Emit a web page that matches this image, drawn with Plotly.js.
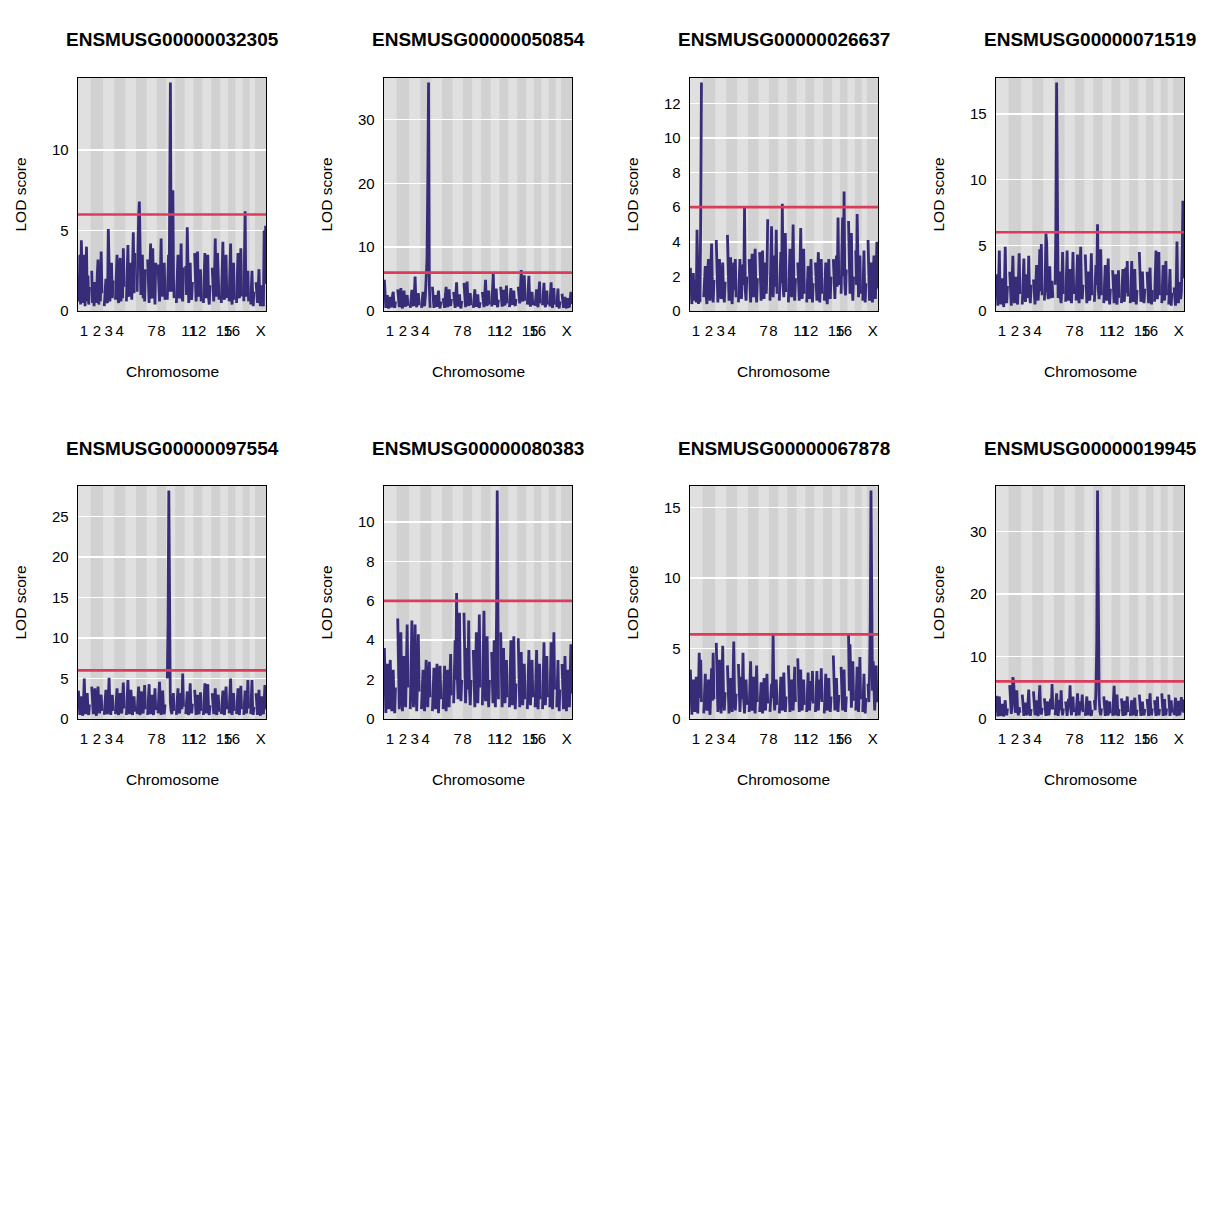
<!DOCTYPE html>
<html>
<head>
<meta charset="utf-8">
<script src="https://cdn.plot.ly/plotly-3.0.1.min.js"></script>
<style>html,body{margin:0;padding:0;background:#fff;}#chart{width:1224px;height:1224px;}</style>
</head>
<body>
<div id="chart"></div>
<script>
// ---- Data ----
const chromosomes = ["1","2","3","4","5","6","7","8","9","10","11","12","13","14","15","16","17","18","19","X"];
const chrLengthsMb = [195.5,182.1,160.0,156.5,151.8,149.7,145.4,129.4,124.6,130.7,122.1,120.1,120.4,124.9,104.0,98.2,94.9,90.7,61.4,171.0];
const gapMb = 25;
const labeledChromosomes = ["1","2","3","4","7","8","11","12","15","16","X"];
const lodThreshold = 6;
const genes = ["ENSMUSG00000032305","ENSMUSG00000050854","ENSMUSG00000026637","ENSMUSG00000071519",
               "ENSMUSG00000097554","ENSMUSG00000080383","ENSMUSG00000067878","ENSMUSG00000019945"];

// LOD scores per chromosome (markers spread evenly along each chromosome)
const lodENSMUSG00000032305 = [
  [2.2,0.6,3.5,0.4,4.4,1.2,0.5,2.8,3.5,0.3,1.9,4.0,0.6,2.2,0.4,1.5],
  [2.5,0.5,1.4,0.3,1.8,0.9,0.5,2.2,3.2,0.4,1.6,0.6,3.7,1.1],
  [0.3,1.2,2.0,0.6,0.5,5.1,1.4,0.6,2.4,3.0,0.8,1.9],
  [0.7,2.6,3.5,0.9,0.5,2.2,3.3,0.6,1.3,0.8,3.9,1.5],
  [0.6,2.4,4.1,1.0,0.9,3.0,1.6,0.7,2.8,4.9,1.1,3.6],
  [1.2,4.0,5.8,6.8,3.0,1.0,2.2,3.5,0.8,1.7,0.6,2.6],
  [3.2,1.0,0.5,2.4,4.2,0.9,0.8,3.9,1.3,2.0,0.4,3.0],
  [2.9,0.8,0.6,2.0,4.5,1.4,0.9,2.6,3.0,0.7],
  [0.7,2.2,3.5,1.2,6.0,14.2,5.5,1.2,3.0,7.5,2.0,0.8],
  [0.5,2.4,3.5,1.0,0.8,2.1,4.2,0.9,0.6,2.7],
  [2.8,1.0,5.2,1.5,0.5,2.2,3.0,0.8,0.7,1.8],
  [3.6,1.2,0.6,2.3,3.7,1.0,0.9,1.8,2.6,0.6],
  [0.5,1.9,3.6,1.1,0.8,2.5,3.5,0.9,0.4,1.6],
  [2.7,0.9,0.6,2.1,4.5,1.3,0.9,3.6,1.5,0.7],
  [0.5,2.2,4.3,1.2,0.7,2.4,3.5,0.8],
  [0.6,2.0,4.2,1.1,0.4,1.9,3.0,0.7],
  [0.5,2.3,3.6,1.0,0.8,2.1,3.9,0.9],
  [0.6,2.4,6.2,1.3,0.9,1.8,2.5,0.6],
  [0.4,1.6,2.5,1.0,0.3,1.2],
  [1.8,0.6,0.5,1.4,2.6,0.8,0.3,1.2,1.6,0.5,0.3,5.0,1.7,5.3]
];
const lodENSMUSG00000050854 = [
  [4.9,1.2,0.5,1.8,2.5,0.7,0.4,1.6,2.2,0.8,0.6,2.4,3.0,1.0,0.5,1.5],
  [3.4,1.1,0.6,2.2,3.6,0.9,0.4,1.9,3.2,1.0,0.7,2.0,2.5,0.8],
  [0.5,1.8,3.3,1.0,0.8,2.4,5.4,1.2,0.6,1.7,2.8,0.9],
  [0.5,1.9,3.0,1.0,0.8,2.5,4.5,8.0,19.7,35.8,4.0,0.5],
  [3.8,1.2,0.5,1.6,2.5,0.9,0.7,2.2,3.2,1.0,0.4,1.5],
  [2.0,0.8,0.5,2.4,3.8,1.1,0.6,2.0,3.4,1.0,0.8,1.9],
  [3.0,1.0,0.5,2.6,4.5,1.3,0.7,1.8,2.6,0.9,0.4,1.6],
  [4.4,1.2,0.6,2.8,4.6,1.4,0.8,1.9,2.8,0.9],
  [0.5,1.9,3.4,1.0,0.7,1.6,2.6,0.8,0.5,1.4],
  [3.0,1.0,0.6,2.5,4.9,1.4,0.8,2.1,3.2,1.0],
  [0.7,2.8,5.9,1.6,1.0,2.2,3.5,1.0,0.6,1.8],
  [3.8,1.2,0.7,2.0,3.3,1.1,0.9,2.4,4.0,1.2],
  [0.6,2.0,3.6,1.2,1.0,2.1,3.2,1.1,0.8,1.9],
  [3.8,1.5,1.2,3.6,6.4,2.0,1.5,3.4,5.6,1.6],
  [1.0,3.0,5.5,1.4,0.7,1.9,3.0,0.9],
  [0.8,2.0,3.4,1.0,0.6,2.5,4.6,1.2],
  [0.9,2.4,4.4,1.2,0.6,1.8,3.2,1.0],
  [0.7,2.6,4.5,1.2,0.5,2.0,3.6,1.0],
  [0.6,2.0,3.5,1.0,0.4,1.5],
  [2.7,0.9,0.5,1.6,2.2,0.8,0.4,1.4,2.0,0.7,0.6,1.8,3.0,1.1]
];
const lodENSMUSG00000026637 = [
  [2.5,0.8,0.4,1.9,2.2,0.9,0.6,1.8,0.5,4.7,1.2,0.4,2.6,0.5,5.5,13.2],
  [0.8,1.9,2.6,1.0,0.4,2.2,3.0,1.1,0.6,2.4,3.9,1.3,0.5,1.8],
  [4.1,1.3,0.5,2.2,3.0,1.0,0.7,2.0,2.8,0.9,0.5,1.7],
  [4.4,1.4,0.6,2.3,3.1,1.0,0.4,1.9,2.8,1.2,3.0,0.8],
  [0.5,2.1,3.0,1.0,0.7,1.9,2.7,1.5,6.0,1.2,0.6,2.0],
  [3.0,1.1,0.5,2.2,3.3,1.2,0.8,2.4,3.6,1.3,0.5,1.9],
  [3.4,1.2,0.6,2.4,3.5,1.1,0.7,2.0,2.8,1.0,2.2,5.3],
  [0.6,2.5,4.9,1.5,0.8,2.2,3.2,1.4,4.7,1.0],
  [0.6,2.0,3.4,1.6,6.2,1.4,0.8,2.3,4.5,1.1],
  [0.5,2.1,3.6,1.2,0.8,2.4,5.0,1.3,0.6,1.9],
  [2.8,1.0,0.6,2.5,4.8,1.4,0.7,2.2,3.6,1.0],
  [0.5,1.8,2.6,1.0,0.7,2.0,3.0,1.1,0.5,1.6],
  [2.8,1.0,0.6,2.2,3.4,1.1,0.5,1.9,3.0,1.0],
  [0.6,1.9,2.8,1.0,0.4,1.7,3.0,1.1,0.7,2.0],
  [3.0,1.1,0.7,2.2,3.2,1.4,5.4,1.5],
  [1.0,3.0,5.4,2.0,6.9,1.6,0.9,2.4],
  [5.2,1.8,1.0,2.6,4.5,1.4,0.6,2.0],
  [3.5,1.5,5.6,1.6,0.8,2.0,3.2,1.0],
  [0.6,2.0,3.5,1.2,0.5,1.6],
  [4.1,1.4,0.6,1.9,2.8,1.0,0.5,2.0,3.2,1.1,0.7,2.2,4.0,1.3]
];
const lodENSMUSG00000071519 = [
  [2.8,1.0,0.4,2.1,4.6,1.3,0.5,1.8,2.5,0.9,0.3,2.0,4.9,1.4,0.6,1.9],
  [3.0,1.0,0.4,2.2,4.2,1.2,0.6,1.9,2.6,0.9,0.5,2.3,4.4,1.3],
  [0.5,2.0,4.0,1.2,0.7,1.9,2.8,1.0,4.2,1.3,0.6,2.0],
  [2.4,0.9,0.5,2.0,3.5,1.1,0.8,2.2,4.7,1.5,5.1,1.2],
  [0.8,2.4,5.9,5.2,1.6,0.9,2.1,3.4,1.1,1.0,2.3,1.0],
  [2.0,6.0,17.4,5.0,1.0,2.2,3.0,1.0,0.6,2.0,4.5,1.3],
  [0.7,2.3,4.6,1.4,0.8,2.0,3.2,1.0,0.6,2.2,4.5,1.3],
  [0.8,2.1,4.3,1.2,0.6,2.5,4.9,1.4,0.9,2.0],
  [4.3,1.3,0.6,1.9,3.0,1.0,0.8,2.3,4.4,1.2],
  [0.7,1.9,3.5,2.0,6.6,1.6,0.9,2.4,4.7,1.2],
  [0.6,1.8,3.5,1.1,0.8,2.2,4.0,1.2,0.5,1.7],
  [3.1,1.0,0.6,1.8,2.8,0.9,0.5,1.9,3.1,1.0],
  [0.6,1.9,3.2,1.0,0.7,2.0,3.3,1.4,3.8,1.1],
  [0.6,2.0,3.8,1.1,0.7,1.9,3.2,1.0,0.5,1.6],
  [4.5,1.3,0.7,1.9,3.0,1.0,0.6,1.7],
  [3.0,1.0,0.6,2.0,3.3,1.1,0.5,1.6],
  [0.7,2.3,4.6,1.3,0.9,2.4,4.5,1.2],
  [0.6,1.9,3.5,1.1,0.8,2.0,3.8,1.2],
  [0.5,1.8,3.2,1.0,0.4,1.4],
  [1.8,0.7,0.4,2.0,5.3,1.4,0.6,1.8,2.2,0.9,1.5,4.0,8.4,2.5]
];
const lodENSMUSG00000097554 = [
  [3.5,1.1,0.5,2.0,2.8,0.9,0.4,2.2,5.0,1.4,0.6,2.1,3.2,1.0,0.5,1.8],
  [4.0,1.2,0.6,2.2,3.8,1.0,0.4,2.0,4.0,1.3,0.7,1.9,3.0,1.0],
  [0.5,2.0,3.6,1.1,0.6,2.4,5.1,1.4,0.5,1.9,3.0,1.0],
  [0.6,2.1,3.8,1.1,0.5,2.0,3.2,1.0,0.7,2.3,4.5,1.3],
  [0.5,2.2,4.8,1.3,0.6,2.0,3.6,1.1,0.5,1.8,2.8,0.9],
  [0.6,2.0,4.0,1.2,0.5,1.9,3.4,1.0,0.7,2.2,4.2,1.2],
  [0.5,2.1,4.3,1.3,0.6,1.8,3.0,1.0,0.5,2.0,3.8,1.1],
  [0.7,2.3,4.6,1.3,0.5,1.9,3.5,1.1,0.6,1.8],
  [5.0,12.0,28.2,6.0,2.0,1.0,0.6,1.9,3.2,1.0],
  [0.5,1.9,3.8,1.1,0.7,2.0,3.2,1.2,5.6,1.5],
  [0.6,1.8,3.4,1.0,0.5,2.2,4.4,1.3,0.7,1.9],
  [3.6,1.1,0.5,1.9,3.0,1.0,0.6,2.0,3.3,1.0],
  [0.5,2.2,4.4,1.3,0.7,2.1,4.3,1.2,0.5,1.7],
  [3.2,1.0,0.6,2.0,3.8,1.1,0.5,1.8,3.0,0.9],
  [0.6,1.9,3.5,1.0,0.5,2.1,4.0,1.2],
  [0.7,2.4,5.0,1.4,0.5,1.8,3.2,1.0],
  [0.6,2.0,3.8,1.1,0.5,2.1,4.1,1.2],
  [0.5,1.9,3.5,1.0,0.7,2.3,4.8,1.3],
  [0.6,2.2,4.8,1.3,0.5,1.5],
  [3.2,1.0,0.5,1.9,3.6,1.1,0.4,1.6,2.8,0.9,0.6,2.0,4.2,1.2]
];
const lodENSMUSG00000080383 = [
  [3.6,1.4,0.3,2.0,2.8,1.0,0.5,2.2,3.0,1.2,0.4,1.8,2.5,0.9,0.3,1.6],
  [5.1,1.8,0.5,2.4,4.4,1.5,0.4,2.0,3.2,1.2,0.6,2.6,4.8,1.6],
  [0.5,2.4,5.0,1.6,0.6,2.2,4.8,1.5,0.4,2.0,4.3,1.4],
  [0.5,1.7,2.5,1.0,0.4,1.9,3.0,1.2,0.6,1.8,2.9,1.1],
  [0.4,1.6,2.6,1.1,0.5,1.8,2.8,1.0,0.3,1.7,2.7,1.0],
  [0.5,1.8,2.7,1.1,0.4,1.7,2.5,1.0,0.6,2.0,3.3,1.2],
  [0.8,2.2,4.0,2.0,6.4,2.2,1.0,2.6,5.4,1.8,0.9,2.0],
  [5.4,1.8,0.8,2.2,3.6,1.5,5.0,1.6,0.7,2.0],
  [3.5,1.4,0.6,2.2,4.4,1.5,0.8,2.4,5.3,1.6],
  [0.7,2.4,5.5,1.8,0.9,2.2,4.2,1.4,0.6,2.0],
  [3.4,1.3,0.8,2.0,4.0,1.4,0.6,2.8,5.5,11.6,2.0,1.0],
  [4.4,1.5,0.6,2.0,3.6,1.3,0.8,1.9,3.0,1.1],
  [0.6,2.1,4.0,1.4,0.7,2.2,4.2,1.5,0.5,1.8],
  [4.1,1.5,0.6,1.9,3.4,1.2,0.7,1.8,2.8,1.0],
  [0.5,1.9,3.5,1.2,0.7,1.8,3.0,1.1],
  [0.6,2.0,3.5,1.2,0.5,1.7,2.8,1.0],
  [0.5,2.1,3.9,1.3,0.7,1.9,3.2,1.1],
  [0.6,2.0,3.9,1.3,0.5,2.2,4.4,1.5],
  [0.6,1.8,3.0,1.1,0.4,1.5],
  [2.8,1.1,0.5,1.9,3.2,1.2,0.4,1.6,2.5,1.0,0.6,2.0,3.8,1.3]
];
const lodENSMUSG00000067878 = [
  [3.5,1.2,0.3,1.9,2.8,1.0,0.5,2.0,3.0,1.1,0.4,2.2,4.7,1.5,4.2,1.2],
  [0.4,1.8,3.2,1.1,0.6,1.9,2.8,1.0,0.3,2.0,3.6,1.3,4.7,1.4],
  [5.4,1.6,0.5,2.0,4.2,1.3,0.4,2.2,5.2,1.5,0.6,1.9],
  [3.8,1.2,0.4,1.8,2.9,1.0,0.5,2.3,5.5,1.6,0.6,1.8],
  [3.9,1.3,0.5,1.9,3.0,1.4,4.7,1.3,0.4,1.7,2.8,1.0],
  [0.5,2.0,4.1,1.3,0.6,1.8,3.0,1.0,0.4,1.9,3.8,1.2],
  [0.5,1.6,2.6,1.0,0.4,1.7,2.9,1.1,0.6,1.9,3.2,1.1],
  [0.5,1.6,2.5,1.5,5.95,1.6,0.6,1.8,2.8,1.0],
  [0.4,1.7,3.0,1.1,0.6,1.9,3.3,1.2,0.5,1.6],
  [3.8,1.2,0.5,1.8,2.8,1.0,0.6,2.0,3.7,1.2],
  [4.3,1.4,0.5,1.9,3.5,1.2,0.6,1.7,2.8,1.0],
  [0.5,1.9,3.3,1.1,0.6,1.7,2.7,1.3,3.4,1.1],
  [0.5,1.8,3.4,1.2,0.6,1.7,2.8,1.4,3.6,1.2],
  [0.4,1.8,3.2,1.1,0.6,1.7,2.9,1.0,0.5,1.6],
  [4.5,1.4,0.6,1.8,2.9,1.0,0.5,1.7],
  [3.7,1.2,0.6,2.0,3.5,1.1,0.5,1.6],
  [5.95,2.0,5.3,1.6,0.8,2.0,4.1,1.3],
  [0.6,2.0,3.7,1.2,0.5,2.1,4.4,1.4],
  [0.5,1.9,3.2,1.1,0.4,1.5],
  [2.5,1.2,3.0,6.8,16.2,5.8,2.0,4.1,1.5,0.6,1.9,3.8,1.2,2.0]
];
const lodENSMUSG00000019945 = [
  [3.7,1.2,0.4,1.9,3.6,1.1,0.5,1.6,2.4,0.9,0.4,1.8,3.0,1.1,0.6,1.7],
  [5.4,1.8,0.8,2.6,6.7,5.8,1.5,1.0,2.2,4.6,1.4,0.6,1.9,1.0],
  [3.9,1.3,0.5,1.7,2.6,1.0,0.6,2.3,4.7,1.4,0.5,1.6],
  [4.4,1.4,0.6,1.9,3.0,1.0,0.5,2.4,5.4,1.6,0.7,1.8],
  [3.3,1.1,0.5,1.8,2.8,1.0,0.6,1.9,3.2,1.6,5.6,1.5],
  [0.6,2.0,4.1,1.3,0.5,1.8,3.0,1.5,4.6,1.4,0.6,1.7],
  [2.8,1.0,0.5,1.9,3.2,1.8,5.4,1.5,0.6,1.9,3.6,1.1],
  [0.5,2.0,4.1,1.2,0.6,1.8,2.8,1.4,3.9,1.1],
  [0.5,1.9,3.6,1.1,0.6,1.7,2.9,1.0,0.5,1.5],
  [3.0,1.4,4.5,12.0,36.5,8.0,3.5,1.2,0.6,1.7],
  [3.6,1.1,0.5,1.8,3.0,1.0,0.6,1.7,2.8,0.9],
  [0.5,2.2,5.3,1.5,0.6,2.0,3.9,1.2,0.5,1.6],
  [3.3,1.0,0.5,1.7,2.9,1.0,0.6,1.9,3.6,1.1],
  [0.5,1.6,3.0,1.0,0.6,1.9,3.4,1.1,0.5,1.5],
  [3.9,1.2,0.5,1.7,2.8,1.0,0.6,1.6],
  [3.2,1.1,0.5,2.0,4.1,1.3,0.6,1.7],
  [3.0,1.0,0.5,1.9,3.6,1.1,0.6,1.6],
  [4.1,1.3,0.5,1.8,3.2,1.0,0.6,1.7],
  [3.9,1.2,0.5,1.6,3.0,1.0],
  [0.6,1.8,3.4,1.1,0.5,1.7,2.9,1.0,0.6,2.0,3.5,1.2,3.1,1.0]
];
const lodScans = [lodENSMUSG00000032305, lodENSMUSG00000050854, lodENSMUSG00000026637, lodENSMUSG00000071519,
                  lodENSMUSG00000097554, lodENSMUSG00000080383, lodENSMUSG00000067878, lodENSMUSG00000019945];

// ---- Styling / layout ----
const W = 1224, H = 1224;
const lineColor = "#372C78", threshColor = "#DC3B5B";
const bandLight = "#E0E0E0", bandDark = "#D1D1D1";
const FONT = "Liberation Sans, Arial, Helvetica, sans-serif";
const plotW = 188, plotH = 233, colStep = 306, rowStep = 408, left0 = 78, top0 = 78;

// chromosome starts (cumulative with gaps)
const chrStart = [];
let acc = 0;
chrLengthsMb.forEach((L) => { chrStart.push(acc); acc += L + gapMb; });
const totalLen = chrStart[19] + chrLengthsMb[19];
const chrMid = chrStart.map((s, i) => s + chrLengthsMb[i] / 2);

// R-style pretty() tick unit
function prettyUnit(range, n) {
  const cell = range / n;
  const U = Math.pow(10, Math.floor(Math.log10(cell)));
  const h = 1.5, h5 = 0.5 + 1.5 * h;
  let unit = U;
  if (2 * U - cell < h * (cell - unit)) { unit = 2 * U;
    if (5 * U - cell < h5 * (cell - unit)) { unit = 5 * U;
      if (10 * U - cell < h * (cell - unit)) unit = 10 * U; } }
  return unit;
}

const data = [], shapes = [], annotations = [];
const layout = {
  width: W, height: H, margin: {l: 0, r: 0, t: 0, b: 0},
  paper_bgcolor: "#ffffff", plot_bgcolor: bandLight, showlegend: false,
  font: {family: FONT, color: "#000"}
};

lodScans.forEach((scan, k) => {
  const row = Math.floor(k / 4), col = k % 4;
  const xa = "xaxis" + (k === 0 ? "" : k + 1), ya = "yaxis" + (k === 0 ? "" : k + 1);
  const xr = "x" + (k === 0 ? "" : k + 1), yr = "y" + (k === 0 ? "" : k + 1);
  const left = left0 + col * colStep, top = top0 + row * rowStep;
  const x = [], y = [];
  let maxLod = 0;
  scan.forEach((vals, c) => {
    vals.forEach((v, j) => {
      x.push(chrStart[c] + chrLengthsMb[c] * (j + 0.5) / vals.length);
      y.push(v);
      if (v > maxLod) maxLod = v;
    });
    x.push(null); y.push(null);
  });
  const ymax = maxLod * 1.02;
  const unit = prettyUnit(ymax, 5);
  data.push({type: "scatter", mode: "lines", x: x, y: y, xaxis: xr, yaxis: yr,
             line: {color: lineColor, width: 2.8}, connectgaps: false, hoverinfo: "skip"});
  layout[xa] = {
    domain: [left / W, (left + plotW) / W], anchor: yr, range: [0, totalLen],
    showgrid: false, zeroline: false, showline: true, mirror: true, linecolor: "#000", linewidth: 1.3,
    tickmode: "array", tickvals: labeledChromosomes.map(c => chrMid[chromosomes.indexOf(c)]),
    ticktext: labeledChromosomes, tickangle: 0, ticks: "", ticklabelstandoff: 6,
    tickfont: {family: FONT, size: 15, color: "#000"}, fixedrange: true
  };
  layout[ya] = {
    domain: [1 - (top + plotH) / H, 1 - top / H], anchor: xr, range: [0, ymax],
    tick0: 0, dtick: unit, showgrid: true, gridcolor: "#ffffff", gridwidth: 1.5, zeroline: false,
    showline: true, mirror: true, linecolor: "#000", linewidth: 1.3, ticks: "", ticklabelstandoff: 5,
    tickfont: {family: FONT, size: 15, color: "#000"}, fixedrange: true
  };
  // chromosome bands (alternate shading)
  chromosomes.forEach((c, i) => {
    if (i % 2 === 1) {
      shapes.push({type: "rect", xref: xr, yref: yr + " domain", layer: "below",
        x0: Math.max(0, chrStart[i] - gapMb / 2), x1: Math.min(totalLen, chrStart[i] + chrLengthsMb[i] + gapMb / 2),
        y0: 0, y1: 1, fillcolor: bandDark, line: {width: 0}});
    }
  });
  // significance threshold
  shapes.push({type: "line", xref: xr + " domain", yref: yr, layer: "above",
    x0: 0, x1: 1, y0: lodThreshold, y1: lodThreshold, line: {color: threshColor, width: 2.7}});
  // titles
  const cx = (left + plotW / 2) / W;
  annotations.push({text: genes[k], xref: "paper", yref: "paper", x: cx, y: 1 - (top - 38) / H,
    xanchor: "center", yanchor: "middle", showarrow: false,
    font: {family: FONT, size: 19, color: "#000", weight: "bold"}});
  annotations.push({text: "Chromosome", xref: "paper", yref: "paper", x: cx, y: 1 - (top + 293) / H,
    xanchor: "center", yanchor: "middle", showarrow: false, font: {family: FONT, size: 15.5, color: "#000"}});
  annotations.push({text: "LOD score", xref: "paper", yref: "paper", x: (left - 58) / W, y: 1 - (top + plotH / 2) / H,
    xanchor: "center", yanchor: "middle", textangle: -90, showarrow: false, font: {family: FONT, size: 15.5, color: "#000"}});
});
layout.shapes = shapes;
layout.annotations = annotations;

Plotly.newPlot("chart", data, layout, {staticPlot: true, displayModeBar: false});
</script>
</body>
</html>
